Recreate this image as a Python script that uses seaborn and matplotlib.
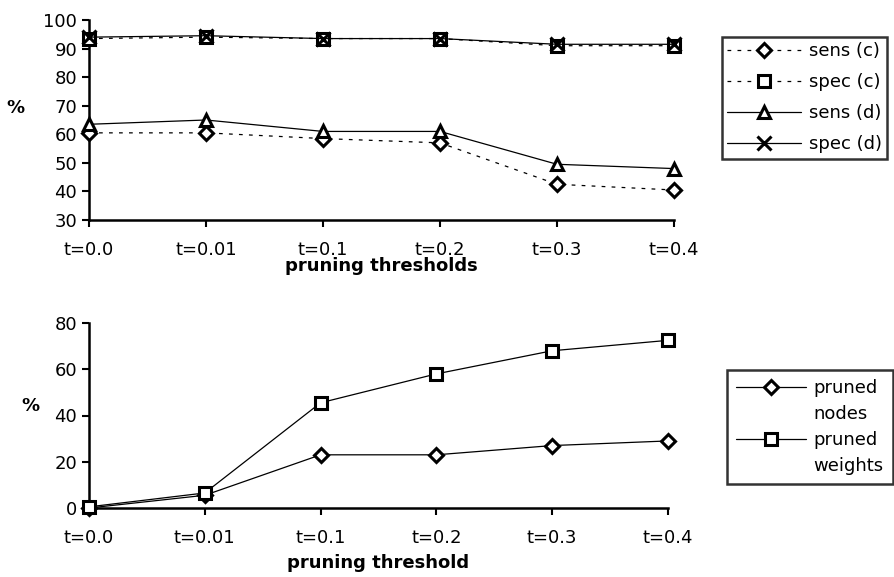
import numpy as np
import pandas as pd
import matplotlib
matplotlib.use("Agg")
import matplotlib.pyplot as plt
import seaborn as sns
from matplotlib.lines import Line2D

# Pruning thresholds (categorical x axis)
thresholds = ["t=0.0", "t=0.01", "t=0.1", "t=0.2", "t=0.3", "t=0.4"]

# Upper panel: sensitivity / specificity (%)
sens_c = [60.5, 60.5, 58.5, 57.0, 42.5, 40.5]
spec_c = [93.5, 94.0, 93.5, 93.5, 91.0, 91.0]
sens_d = [63.5, 65.0, 61.0, 61.0, 49.5, 48.0]
spec_d = [94.0, 94.5, 93.5, 93.5, 91.5, 91.5]

# Lower panel: pruned share (%)
pruned_nodes = [0.0, 5.5, 23.0, 23.0, 27.0, 29.0]
pruned_weights = [0.5, 6.5, 45.5, 58.0, 68.0, 72.5]

sns.set_theme(style="ticks")
plt.rcParams["font.family"] = ["DejaVu Sans"]
plt.rcParams["font.size"] = 13
for key in ("text.color", "axes.labelcolor", "xtick.color", "ytick.color"):
    plt.rcParams[key] = "black"

x = np.arange(len(thresholds))

fig = plt.figure(figsize=(8.94, 5.77), dpi=100)
W, H = 894, 577
ax1 = fig.add_axes([89 / W, 1 - 220 / H, (674 - 89) / W, 200 / H])
ax2 = fig.add_axes([89 / W, 1 - 508 / H, (668 - 89) / W, 185 / H])

MEW = 2.2
LW = 0.9


def marker_style(mk, ms, ls="-"):
    return dict(color="black", linewidth=LW, linestyle=ls, marker=mk, markersize=ms,
                markerfacecolor="white", markeredgecolor="black", markeredgewidth=MEW)


top_series = [
    ("sens (c)", sens_c, "D", (0, (3, 5)), 7),
    ("spec (c)", spec_c, "s", (0, (3, 5)), 8),
    ("sens (d)", sens_d, "^", "-", 9),
    ("spec (d)", spec_d, "x", "-", 10),
]

top_handles = []
for name, vals, mk, ls, ms in top_series:
    df = pd.DataFrame({"x": x, "y": vals})
    sns.lineplot(data=df, x="x", y="y", ax=ax1, legend=False, clip_on=False,
                 zorder=3, **marker_style(mk, ms, ls))
    top_handles.append(Line2D([], [], label=name, **marker_style(mk, ms, ls)))

bottom_series = [
    ("pruned", "nodes", pruned_nodes, "D", 7),
    ("pruned", "weights", pruned_weights, "s", 9),
]
bottom_handles = []
bottom_labels = []
for first, second, vals, mk, ms in bottom_series:
    df = pd.DataFrame({"x": x, "y": vals})
    sns.lineplot(data=df, x="x", y="y", ax=ax2, legend=False, clip_on=False,
                 zorder=3, **marker_style(mk, ms))
    # marker sits beside the first word; second word on its own row
    bottom_handles.append(Line2D([], [], **marker_style(mk, ms)))
    bottom_labels.append(first)
    bottom_handles.append(Line2D([], [], linestyle="none"))
    bottom_labels.append(second)

for ax in (ax1, ax2):
    ax.set_xlim(0, 5)
    ax.set_xticks(x)
    ax.set_xticklabels(thresholds)
    sns.despine(ax=ax)
    for s in ("left", "bottom"):
        ax.spines[s].set_linewidth(1.8)
        ax.spines[s].set_color("black")
    ax.tick_params(axis="both", direction="out", length=5, width=1.5,
                   colors="black", labelsize=13)
    ax.tick_params(axis="x", pad=10)
    ax.set_facecolor("white")

ax1.set_ylim(30, 100)
ax1.set_yticks(np.arange(30, 101, 10))
ax2.set_ylim(0, 80)
ax2.set_yticks(np.arange(0, 81, 20))

ax1.set_xlabel("pruning thresholds", fontweight="bold", fontsize=13, labelpad=-1)
ax2.set_xlabel("pruning threshold", fontweight="bold", fontsize=13, labelpad=5)
ax1.set_ylabel("%", rotation=0, fontweight="bold", fontsize=13)
ax2.set_ylabel("%", rotation=0, fontweight="bold", fontsize=13)
ax1.yaxis.set_label_coords((15 - 89) / 585, (220 - 117) / 200)
ax2.yaxis.set_label_coords((30 - 89) / 579, (508 - 415) / 185)

leg1 = fig.legend(handles=top_handles, loc="upper left",
                  bbox_to_anchor=(722 / W, 1 - 37 / H), frameon=True, fancybox=False,
                  edgecolor="black", fontsize=13, handlelength=4.1, borderpad=0.3,
                  labelspacing=0.72, handletextpad=0.4, borderaxespad=0)
leg1.get_frame().set_linewidth(1.8)

leg2 = fig.legend(handles=bottom_handles, labels=bottom_labels, loc="upper left",
                  bbox_to_anchor=(727 / W, 1 - 370 / H), frameon=True, fancybox=False,
                  edgecolor="black", fontsize=13, handlelength=3.9, borderpad=0.5,
                  labelspacing=0.45, handletextpad=0.4, borderaxespad=0)
leg2.get_frame().set_linewidth(1.8)

fig.savefig("out.png", dpi=100, facecolor="white")
